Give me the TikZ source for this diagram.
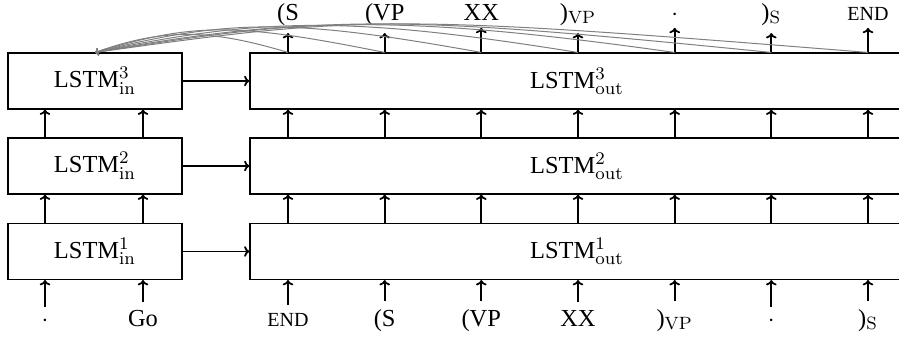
\documentclass[tikz,border=0pt]{standalone}
\usepackage[no-math]{fontspec}
\setmainfont{Liberation Serif}
\usetikzlibrary{arrows.meta}
\newcommand\ENDtok{{\fontsize{9}{10}\selectfont END}}
\newcommand\VPtok{)$_{\mathrm{VP}}$}
\newcommand\Stok{)$_{\mathrm{S}}$}
\begin{document}
\begin{tikzpicture}[x=0.45pt,y=-0.45pt,
  box/.style={draw, line width=0.5pt, inner sep=0pt, minimum height=25.2pt, font=\fontsize{11}{13}\selectfont},
  inbox/.style={box, minimum width=78.3pt},
  outbox/.style={box, minimum width=294.3pt},
  tok/.style={anchor=base, font=\fontsize{11}{13}\selectfont},
  arr/.style={-{To[length=2.4pt,width=4.8pt]}, line width=0.8pt},
  back/.style={-{To[length=1.6pt,width=3.4pt]}, gray, line width=0.45pt},
]
\useasboundingbox (0,0) rectangle (899,339);
\clip (0,0) rectangle (899,339);

% boxes
\node[inbox]  (i1) at (95,251.5) {LSTM$^{1}_{\mathrm{in}}$};
\node[inbox]  (i2) at (95,166)   {LSTM$^{2}_{\mathrm{in}}$};
\node[inbox]  (i3) at (95,81)    {LSTM$^{3}_{\mathrm{in}}$};
\node[outbox] (o1) at (577,251.5) {LSTM$^{1}_{\mathrm{out}}$};
\node[outbox] (o2) at (577,166)   {LSTM$^{2}_{\mathrm{out}}$};
\node[outbox] (o3) at (577,81)    {LSTM$^{3}_{\mathrm{out}}$};

\foreach \k in {1,2,3} \draw[arr] (i\k.east) -- (o\k.west);

% bottom tokens
\node[tok] (b1) at (45,326)    {$\cdot$};
\node[tok] (b2) at (143,326)   {Go};
\node[tok] (b3) at (288,326)   {\ENDtok};
\node[tok] (b4) at (384.7,326) {(S};
\node[tok] (b5) at (481.3,326) {(VP};
\node[tok] (b6) at (578,326)   {XX};
\node[tok] (b7) at (674.7,326) {\VPtok};
\node[tok] (b8) at (771.3,326) {$\cdot$};
\node[tok] (b9) at (868,326)   {\Stok};

% top tokens
\node[tok] (t1) at (288,20)   {(S};
\node[tok] (t2) at (384.7,20) {(VP};
\node[tok] (t3) at (481.3,20) {XX};
\node[tok] (t4) at (578,20)   {\VPtok};
\node[tok] (t5) at (674.7,20) {$\cdot$};
\node[tok] (t6) at (771.3,20) {\Stok};
\node[tok] (t7) at (868,20)   {\ENDtok};

% input arrows and inter-layer arrows
\foreach \j in {1,2} {
  \draw[arr] (b\j.north) -- (i1.south -| b\j);
  \draw[arr] (i1.north -| b\j) -- (i2.south -| b\j);
  \draw[arr] (i2.north -| b\j) -- (i3.south -| b\j);
}
\foreach \j in {3,...,9} {
  \draw[arr] (b\j.north) -- (o1.south -| b\j);
  \draw[arr] (o1.north -| b\j) -- (o2.south -| b\j);
  \draw[arr] (o2.north -| b\j) -- (o3.south -| b\j);
}

% output arrows
\foreach \j in {1,...,7} \draw[arr] (o3.north -| t\j) -- (t\j.south);

% feedback curves: column / height / entry control / exit control
\foreach \j/\h/\a/\b in {1/24/80/68, 2/30/150/100, 3/34/189/135, 4/36/225/170, 5/37/264/203, 6/38/380/237, 7/38/475/270} {
  \draw[back] (o3.north -| t\j) .. controls +(-\a,-\h) and +(\b,-\h) .. (i3.north);
}
\end{tikzpicture}
\end{document}
